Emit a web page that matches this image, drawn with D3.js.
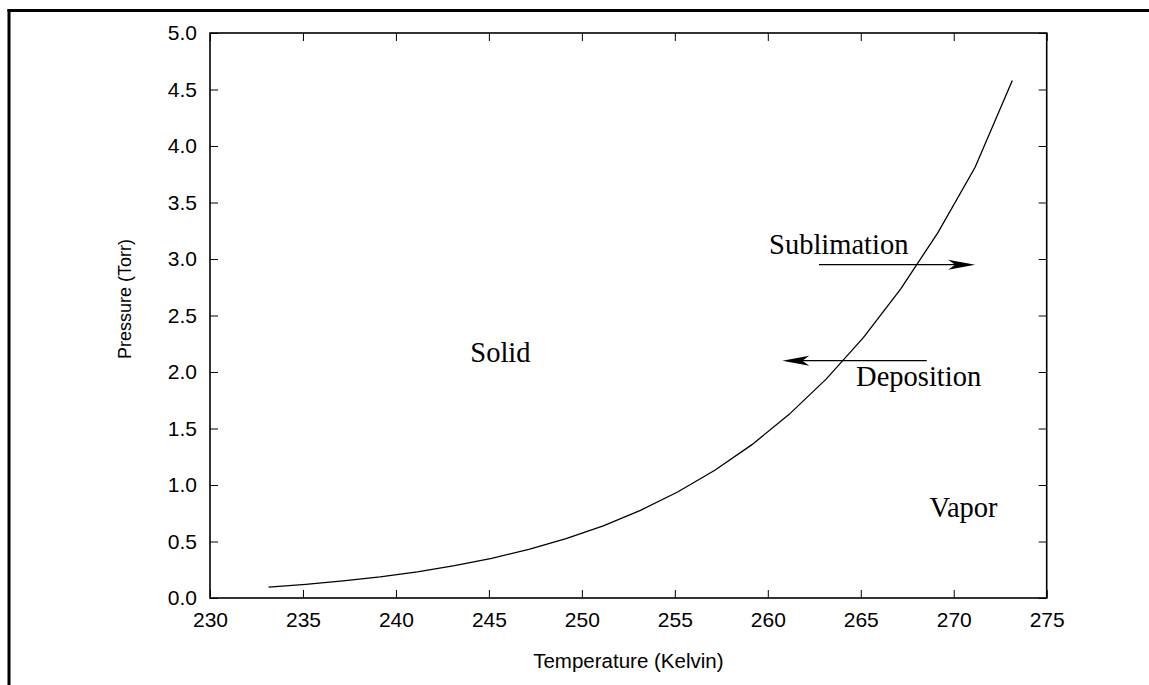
<!DOCTYPE html>
<html>
<head>
<meta charset="utf-8">
<script src="https://cdn.jsdelivr.net/npm/d3@7"></script>
<style>
  html, body { margin: 0; padding: 0; background: #fff; }
  svg { display: block; }
</style>
</head>
<body>
<svg id="chart" width="1149" height="685"></svg>
<script>
// Sublimation curve of ice: temperature (K) vs vapor pressure (Torr)
const temperatures = [233.15, 235.15, 237.15, 239.15, 241.15, 243.15, 245.15, 247.15,
  249.15, 251.15, 253.15, 255.15, 257.15, 259.15, 261.15, 263.15, 265.15, 267.15,
  269.15, 271.15, 273.15];
const pressures = [0.097, 0.121, 0.151, 0.187, 0.232, 0.286, 0.351, 0.430,
  0.525, 0.639, 0.776, 0.938, 1.130, 1.357, 1.625, 1.939, 2.306, 2.735,
  3.234, 3.812, 4.580];

const xTicks = [230, 235, 240, 245, 250, 255, 260, 265, 270, 275];
const yTicks = [0.0, 0.5, 1.0, 1.5, 2.0, 2.5, 3.0, 3.5, 4.0, 4.5, 5.0];

// Region / process labels, in data coordinates (left edge, baseline)
const labelText = ["Solid", "Vapor", "Sublimation", "Deposition"];
const labelT = [244.0, 268.7, 260.07, 264.75];
const labelP = [2.09, 0.72, 3.04, 1.875];

// Process arrows: from (T0,P) to (T1,P)
const arrowFromT = [262.75, 268.55];
const arrowToT = [271.15, 260.78];
const arrowP = [2.95, 2.10];

const svg = d3.select("#chart");
const W = 1149, H = 685;
const m = { left: 210, right: 1046.7, top: 33, bottom: 598 };

const x = d3.scaleLinear().domain([230, 275]).range([m.left, m.right]);
const y = d3.scaleLinear().domain([0, 5]).range([m.bottom, m.top]);

// Outer page frame (top and left edges)
svg.append("line").attr("x1", 7.5).attr("x2", W).attr("y1", 10.5).attr("y2", 10.5)
  .attr("stroke", "#000").attr("stroke-width", 3);
svg.append("line").attr("x1", 9).attr("x2", 9).attr("y1", 9).attr("y2", H)
  .attr("stroke", "#000").attr("stroke-width", 3);

const tickLen = 8;
const sans = "'Liberation Sans', Arial, Helvetica, sans-serif";
const serif = "'Liberation Serif', 'Times New Roman', serif";

// Bottom axis with labels, inward ticks
const xAxis = d3.axisBottom(x).tickValues(xTicks).tickSize(-tickLen).tickPadding(14)
  .tickFormat(d3.format("d"));
const gx = svg.append("g").attr("transform", `translate(0,${m.bottom})`).call(xAxis);
// Top mirror ticks
const gxt = svg.append("g").attr("transform", `translate(0,${m.top})`)
  .call(d3.axisTop(x).tickValues(xTicks).tickSize(-tickLen).tickFormat(""));
// Left axis with labels
const yAxis = d3.axisLeft(y).tickValues(yTicks).tickSize(-tickLen).tickPadding(13)
  .tickFormat(d3.format(".1f"));
const gy = svg.append("g").attr("transform", `translate(${m.left},0)`).call(yAxis);
// Right mirror ticks
const gyr = svg.append("g").attr("transform", `translate(${m.right},0)`)
  .call(d3.axisRight(y).tickValues(yTicks).tickSize(-tickLen).tickFormat(""));

[gx, gxt, gy, gyr].forEach(g => {
  g.select(".domain").remove();
  g.selectAll(".tick line").attr("stroke", "#000").attr("stroke-width", 1);
  g.selectAll("text").attr("fill", "#000").attr("font-family", sans).attr("font-size", 21);
});
gx.selectAll("text").attr("dy", "0.71em");

// Plot frame
svg.append("rect")
  .attr("x", m.left).attr("y", m.top)
  .attr("width", m.right - m.left).attr("height", m.bottom - m.top)
  .attr("fill", "none").attr("stroke", "#000").attr("stroke-width", 1.6);

// Axis titles
svg.append("text")
  .attr("x", (m.left + m.right) / 2).attr("y", 668)
  .attr("text-anchor", "middle")
  .attr("font-family", sans).attr("font-size", 20.5)
  .text("Temperature (Kelvin)");
svg.append("text")
  .attr("transform", `translate(131,${299}) rotate(-90)`)
  .attr("text-anchor", "middle")
  .attr("font-family", sans).attr("font-size", 18)
  .text("Pressure (Torr)");

// Sublimation curve
const line = d3.line().x(d => x(d[0])).y(d => y(d[1]));
svg.append("path")
  .datum(temperatures.map((t, i) => [t, pressures[i]]))
  .attr("d", line)
  .attr("fill", "none").attr("stroke", "#000").attr("stroke-width", 1.3);

// Arrows
arrowFromT.forEach((t0, i) => {
  const x0 = x(t0), x1 = x(arrowToT[i]), yy = y(arrowP[i]);
  const dir = Math.sign(x1 - x0);
  svg.append("line")
    .attr("x1", x0).attr("x2", x1 - dir * 10).attr("y1", yy).attr("y2", yy)
    .attr("stroke", "#000").attr("stroke-width", 1.2);
  const L = 27, hw = 5, notch = 20;
  svg.append("path")
    .attr("d", `M${x1},${yy} L${x1 - dir * L},${yy - hw} L${x1 - dir * notch},${yy} L${x1 - dir * L},${yy + hw} Z`)
    .attr("fill", "#000");
});

// Labels
labelText.forEach((s, i) => {
  svg.append("text")
    .attr("x", x(labelT[i])).attr("y", y(labelP[i]))
    .attr("font-family", serif).attr("font-size", 28.5)
    .attr("fill", "#000")
    .text(s);
});
</script>
</body>
</html>
